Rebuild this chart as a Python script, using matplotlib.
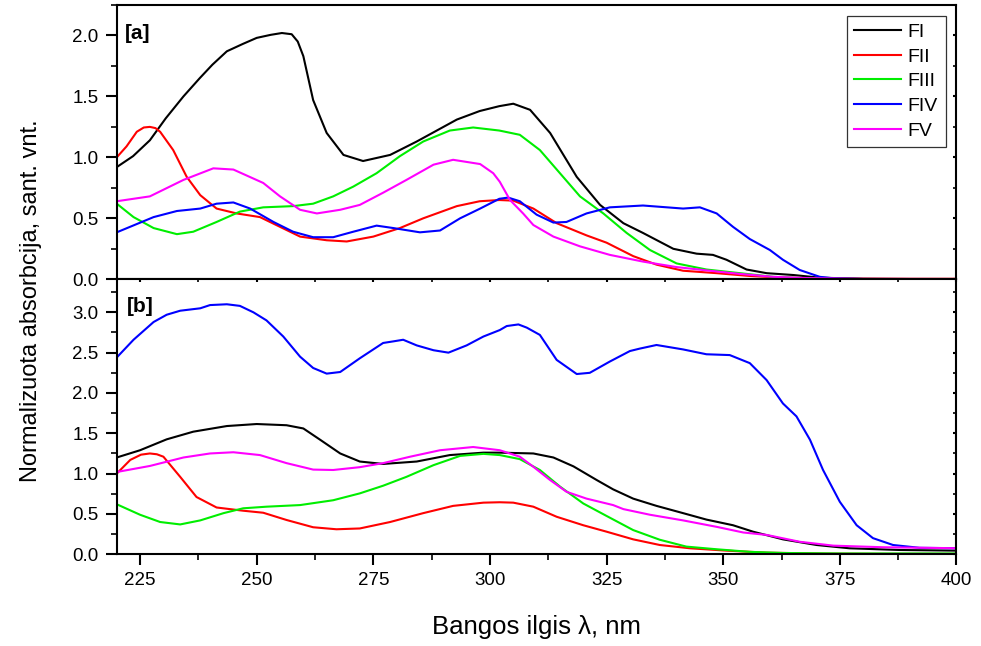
import matplotlib
matplotlib.use("Agg")
import matplotlib.pyplot as plt
from matplotlib.ticker import MultipleLocator

plt.rcParams['font.family'] = ['Liberation Sans', 'DejaVu Sans']

# ---- panel [a] ----
a_fi_x = [220, 223.5, 227.1, 230.5, 234.3, 237.8, 240.5, 243.6, 247, 250, 253, 255.4, 257.5, 258.8, 260,
          262.1, 265, 268.6, 272.8, 278.6,
          284.3, 292.9, 297.8, 302, 305, 308.6, 312.9, 318.6, 323.6, 328.6, 332.8, 339.3, 344.3,
          347.8, 350.7, 355, 359.3, 365, 370.7, 380, 390, 400]
a_fi_y = [0.92, 1.01, 1.14, 1.32, 1.50, 1.65, 1.76, 1.87, 1.93, 1.98, 2.005, 2.02, 2.01, 1.95, 1.83,
          1.47, 1.20, 1.02, 0.97, 1.02,
          1.13, 1.31, 1.38, 1.42, 1.44, 1.39, 1.20, 0.84, 0.61, 0.46, 0.38, 0.25, 0.21,
          0.20, 0.16, 0.08, 0.05, 0.035, 0.013, 0.004, 0.002, 0.002]

a_fii_x = [220, 222.1, 224.3, 225.8, 227.1, 228.3, 229.3, 232.1, 235, 237.9, 241.4, 245.7, 250.7, 255,
           259.3, 265, 269.3, 275, 280.7, 285.7, 292.9, 297.8, 302, 305, 309.3, 314.3, 320.7, 325,
           330.7, 335.7, 341.4, 348.6, 355.7, 362.8, 375, 390, 400]
a_fii_y = [1.00, 1.09, 1.21, 1.245, 1.25, 1.24, 1.21, 1.06, 0.84, 0.69, 0.58, 0.54, 0.51, 0.43,
           0.35, 0.32, 0.31, 0.35, 0.42, 0.50, 0.60, 0.64, 0.65, 0.645, 0.58, 0.46, 0.36, 0.30,
           0.19, 0.12, 0.07, 0.05, 0.027, 0.013, 0.005, 0.004, 0.004]

a_fiii_x = [220, 223.6, 227.9, 232.9, 236.4, 241.4, 246.4, 251.4, 257.8, 262.1, 266.4, 270.7, 275.7,
            280.7, 285.7, 291.4, 296.4, 302, 306.4, 310.7, 315, 319.3, 324.3, 329.3, 334.3,
            340, 346.4, 353.6, 360.7, 367.8, 380, 400]
a_fiii_y = [0.62, 0.51, 0.42, 0.37, 0.39, 0.47, 0.555, 0.59, 0.60, 0.62, 0.68, 0.76, 0.87,
            1.01, 1.13, 1.22, 1.245, 1.22, 1.185, 1.06, 0.87, 0.68, 0.54, 0.38, 0.24,
            0.13, 0.08, 0.05, 0.02, 0.008, 0.002, 0.001]

a_fiv_x = [220, 227.9, 232.9, 237.9, 241.4, 245, 248.6, 253.6, 257.8, 262.1, 266.4, 270.7, 275.7,
           279.3, 285, 289.3, 293.6, 297.9, 302, 303.9, 306.4, 310, 313.6, 316.4, 320.7, 325.7,
           332.8, 341.4, 345, 348.6, 352.1, 355.7, 360, 362.8, 366.4, 370.7, 373.6, 380, 400]
a_fiv_y = [0.385, 0.51, 0.56, 0.58, 0.62, 0.63, 0.58, 0.47, 0.39, 0.345, 0.345, 0.39, 0.44,
           0.42, 0.385, 0.40, 0.50, 0.58, 0.66, 0.67, 0.64, 0.53, 0.465, 0.47, 0.54, 0.59,
           0.605, 0.58, 0.59, 0.54, 0.43, 0.33, 0.24, 0.16, 0.076, 0.02, 0.008, 0.002, 0.001]

a_fv_x = [220, 227.1, 234.3, 240.7, 245, 251.4, 255, 259.3, 262.9, 267.9, 272.1, 277.1, 282.1,
          287.9, 292.1, 297.9, 300.7, 302.1, 304.3, 307.1, 309.3, 313.6, 319.3, 325.7, 332.8,
          340, 347.1, 353.6, 360.7, 367.8, 380, 400]
a_fv_y = [0.64, 0.68, 0.815, 0.91, 0.90, 0.79, 0.68, 0.57, 0.54, 0.57, 0.61, 0.71, 0.815,
          0.94, 0.98, 0.945, 0.87, 0.80, 0.65, 0.54, 0.445, 0.35, 0.27, 0.20, 0.145,
          0.10, 0.07, 0.044, 0.02, 0.01, 0.003, 0.002]

# ---- panel [b] ----
b_fi_x = [220, 225, 230.7, 236.4, 243.6, 250, 256.4, 260, 263.6, 267.9, 272.1, 277.1, 284.3, 291.4,
          298.6, 302.1, 309.3, 313.6, 317.9, 322.9, 326.4, 330.7, 335.7, 341.4, 346.4, 352.1,
          356.4, 362.8, 370, 377.1, 387.9, 400]
b_fi_y = [1.20, 1.29, 1.425, 1.52, 1.59, 1.615, 1.60, 1.56, 1.42, 1.25, 1.15, 1.12, 1.15, 1.23,
          1.26, 1.26, 1.25, 1.20, 1.09, 0.92, 0.805, 0.69, 0.60, 0.51, 0.43, 0.36,
          0.28, 0.185, 0.115, 0.074, 0.053, 0.045]

b_fii_x = [220, 222.9, 225.2, 227.1, 228.6, 230, 233.6, 237.1, 241.4, 247.1, 251.4, 256.4, 262.1,
           267.1, 272.1, 278.6, 285.7, 292.1, 298.6, 302.1, 305, 309.3, 314.3, 320, 325, 330.7,
           336.4, 342.9, 350.7, 359.3, 372, 385, 400]
b_fii_y = [1.00, 1.17, 1.235, 1.25, 1.24, 1.21, 0.96, 0.71, 0.58, 0.54, 0.515, 0.425, 0.335,
           0.31, 0.32, 0.40, 0.51, 0.60, 0.64, 0.645, 0.64, 0.59, 0.465, 0.36, 0.28, 0.185,
           0.115, 0.074, 0.045, 0.02, 0.008, 0.005, 0.005]

b_fiii_x = [220, 225, 229.3, 233.6, 237.9, 242.9, 247.1, 252.1, 259.3, 266.4, 272.1, 277.1, 282.1,
            287.9, 293.6, 298.6, 302.1, 306.4, 310.7, 315, 320, 325, 330.7, 336.4, 342.1,
            348.6, 355.7, 362.8, 375, 400]
b_fiii_y = [0.62, 0.49, 0.40, 0.37, 0.42, 0.51, 0.57, 0.59, 0.61, 0.67, 0.755, 0.85, 0.96,
            1.105, 1.22, 1.245, 1.23, 1.18, 1.045, 0.84, 0.63, 0.475, 0.30, 0.18, 0.095,
            0.062, 0.03, 0.016, 0.01, 0.01]

b_fiv_x = [220, 223.6, 227.9, 230.7, 233.6, 237.9, 240, 243.6, 246.4, 249.3, 252.1, 255.7, 259.3,
           262.1, 265, 267.9, 272.1, 277.1, 279.3, 281.4, 284.3, 287.9, 291.1, 295, 298.6,
           302.1, 303.6, 306.1, 307.9, 310.7, 314.3, 318.6, 321.4, 325.7, 330, 332.1, 335.7,
           341.4, 346.4, 351.4, 355.7, 359.3, 362.8, 365.7, 368.6, 371.4, 375, 378.6, 382.1,
           386.4, 392.1, 400]
b_fiv_y = [2.44, 2.66, 2.88, 2.97, 3.02, 3.05, 3.09, 3.10, 3.08, 3.00, 2.90, 2.70, 2.45,
           2.31, 2.24, 2.26, 2.43, 2.62, 2.64, 2.66, 2.59, 2.53, 2.50, 2.59, 2.70,
           2.78, 2.83, 2.85, 2.81, 2.72, 2.41, 2.235, 2.25, 2.39, 2.52, 2.55, 2.595,
           2.54, 2.48, 2.47, 2.37, 2.16, 1.87, 1.71, 1.42, 1.045, 0.65, 0.36, 0.20,
           0.115, 0.08, 0.075]

b_fv_x = [220, 227.1, 234.3, 240, 245, 250.7, 256.4, 262.1, 266.4, 272.1, 277.1, 282.9, 289.3,
          296.4, 302.1, 306.4, 309.3, 312.9, 316.4, 320.7, 326.4, 328.6, 334.3, 341.4, 348.6,
          354.3, 359.3, 366.4, 373.6, 384.3, 400]
b_fv_y = [1.02, 1.095, 1.20, 1.25, 1.265, 1.23, 1.13, 1.05, 1.045, 1.08, 1.13, 1.21, 1.29,
          1.33, 1.29, 1.21, 1.085, 0.92, 0.775, 0.69, 0.61, 0.56, 0.49, 0.42, 0.34,
          0.27, 0.24, 0.155, 0.107, 0.087, 0.075]

names = ["FI", "FII", "FIII", "FIV", "FV"]
colors = ["#000000", "#FF0000", "#00EE00", "#0000FF", "#FF00FF"]

fig = plt.figure(figsize=(9.81, 6.46), dpi=100)
ax1 = fig.add_axes([0.119, 0.5677, 0.856, 0.4246])
ax2 = fig.add_axes([0.119, 0.142, 0.856, 0.4257], sharex=ax1)

top = [(a_fi_x, a_fi_y), (a_fii_x, a_fii_y), (a_fiii_x, a_fiii_y), (a_fiv_x, a_fiv_y), (a_fv_x, a_fv_y)]
bot = [(b_fi_x, b_fi_y), (b_fii_x, b_fii_y), (b_fiii_x, b_fiii_y), (b_fiv_x, b_fiv_y), (b_fv_x, b_fv_y)]

for i in range(5):
    ax1.plot(top[i][0], top[i][1], color=colors[i], lw=1.5, label=names[i])
    ax2.plot(bot[i][0], bot[i][1], color=colors[i], lw=1.5)

ax1.set_xlim(220, 400)
ax1.set_ylim(0, 2.25)
ax2.set_ylim(0, 3.41)

for ax in (ax1, ax2):
    for s in ax.spines.values():
        s.set_linewidth(1.5)
    ax.xaxis.set_major_locator(MultipleLocator(25))
    ax.xaxis.set_minor_locator(MultipleLocator(12.5))
    ax.yaxis.set_major_locator(MultipleLocator(0.5))
    ax.yaxis.set_minor_locator(MultipleLocator(0.25))
    ax.tick_params(which='major', direction='out', length=8, width=1.5, labelsize=13.5, pad=5)
    ax.tick_params(which='minor', direction='out', length=4.3, width=1.2)
    ax.tick_params(which='both', top=True, right=True)
    ax.yaxis.set_major_formatter(plt.FormatStrFormatter('%.1f'))

# small inward ticks on top and right, like the original
for ax in (ax1, ax2):
    for t in ax.xaxis.get_ticklines(minor=False)[1::2] + ax.xaxis.get_ticklines(minor=True)[1::2]:
        t.set_markersize(2.5)
        t.set_marker(3)
    for t in ax.yaxis.get_ticklines(minor=False)[1::2] + ax.yaxis.get_ticklines(minor=True)[1::2]:
        t.set_markersize(2.5)
        t.set_marker(0)

ax1.tick_params(axis='x', which='both', labelbottom=False, length=0)
ax1.tick_params(axis='x', which='both', top=True)

ax1.text(0.01, 0.895, "[a]", transform=ax1.transAxes, fontsize=15, fontweight='bold', va='center')
ax2.text(0.012, 0.9, "[b]", transform=ax2.transAxes, fontsize=15, fontweight='bold', va='center')

leg = ax1.legend(loc='upper right', fontsize=14, frameon=True, fancybox=False,
                 edgecolor='black', handlelength=2.4, labelspacing=0.36,
                 borderaxespad=0.55, handletextpad=0.35, borderpad=0.4)
leg.get_frame().set_linewidth(0.9)

fig.text(0.547, 0.03, "Bangos ilgis λ, nm", fontsize=18.5, ha='center', va='center')
fig.text(0.032, 0.535, "Normalizuota absorbcija, sant. vnt.", rotation=90,
         fontsize=17, va='center', ha='center')

fig.savefig("out.png", dpi=100)
